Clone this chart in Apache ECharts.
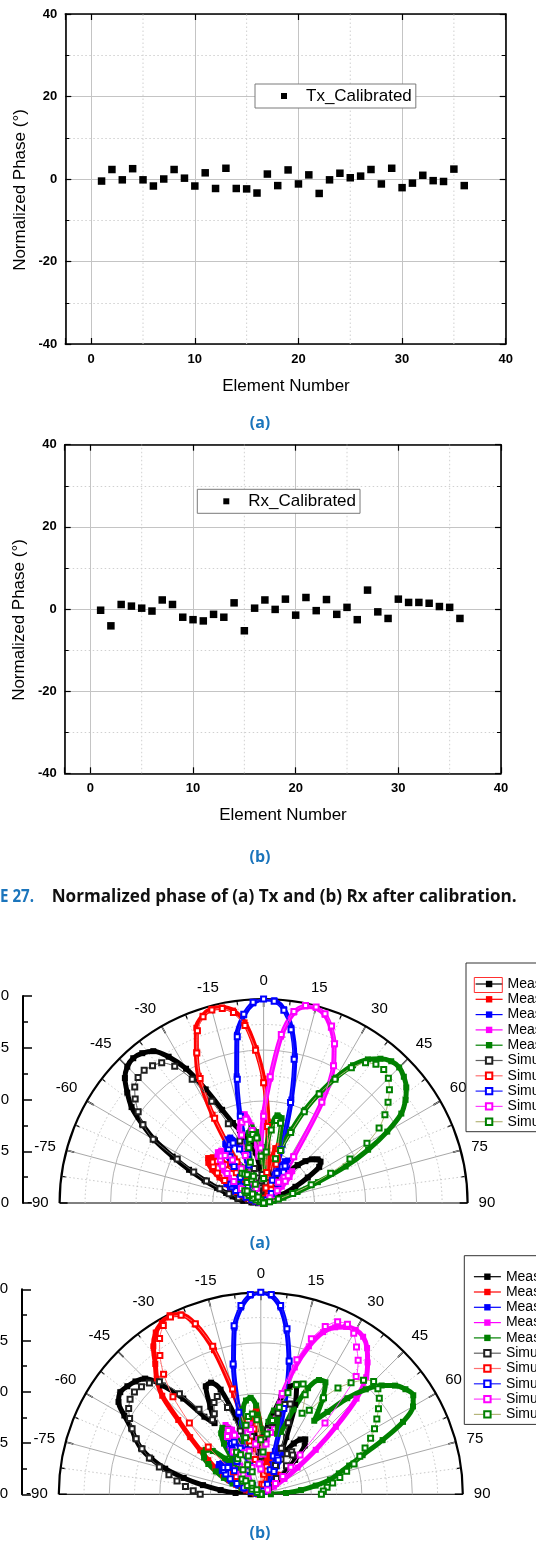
<!DOCTYPE html>
<html><head><meta charset="utf-8">
<script src="https://cdn.jsdelivr.net/npm/echarts@6/dist/echarts.min.js"></script>
<style>html,body{margin:0;padding:0;background:#fff}#c{width:536px;height:1547px}</style>
</head><body><div id="c"></div><script>
// ---------- DATA ----------
const elements = [1,2,3,4,5,6,7,8,9,10,11,12,13,14,15,16,17,18,19,20,21,22,23,24,25,26,27,28,29,30,31,32,33,34,35,36];
const txPhase = [-0.5,2.3,-0.2,2.5,-0.2,-1.7,0,2.3,0.2,-1.7,1.5,-2.3,2.6,-2.3,-2.4,-3.4,1.2,-1.6,2.2,-1.2,1.0,-3.5,-0.2,1.4,0.3,0.7,2.3,-1.2,2.6,-2.1,-1.0,0.9,-0.4,-0.6,2.4,-1.6];
const rxPhase = [-0.3,-4.1,1.1,0.7,0.2,-0.5,2.2,1.1,-2.0,-2.6,-2.9,-1.3,-2.0,1.5,-5.3,0.2,2.2,-0.1,2.4,-1.5,2.8,-0.4,2.3,-1.3,0.4,-2.6,4.6,-0.7,-2.3,2.4,1.6,1.6,1.4,0.6,0.4,-2.3];
const xTickLabels = [0,10,20,30,40];
const xMinorGrid = [5,15,25,35];
const yTickLabels = [-40,-20,0,20,40];

const angles = [-90,-87,-84,-81,-78,-75,-72,-69,-66,-63,-60,-57,-54,-51,-48,-45,-42,-39,-36,-33,-30,-27,-24,-21,-18,-15,-12,-9,-6,-3,0,3,6,9,12,15,18,21,24,27,30,33,36,39,42,45,48,51,54,57,60,63,66,69,72,75,78,81,84,87,90];
const angleTicks = [-90,-75,-60,-45,-30,-15,0,15,30,45,60,75,90];
const radiusTicks = [-20,-15,-10,-5,0];
const radiusMajorGrid = [-15,-10,-5];
const radiusMinorGrid = [-17.5,-12.5,-7.5,-2.5];

// Panel (a) Tx patterns, dB
const txMeasBlack = [-19.8,-18.8,-18.0,-17.4,-16.9,-16.2,-15.2,-13.8,-12.0,-10.0, -7.7,-5.8,-4.0,-2.8,-1.7,-1.1,-0.9,-1.1,-1.6,-2.9, -4.8,-7.5,-10.0,-11.6,-12.5,-13.3,-14.0,-15.0,-16.5,-17.5, -18.5,-19.5,-18.0,-17.0,-17.8,-19.0,-18.2,-17.2,-17.0,-17.5, -18.5,-18.0,-17.0,-16.0,-15.0,-14.2,-13.6,-13.2,-13.1,-13.5, -15.0,-16.5,-18.0,-19.0,-19.5,-20,-20,-20,-20,-20,-20];
const txMeasRed = [-20,-20,-19.6,-19.3,-19.0,-18.5,-18.0,-17.5,-16.8,-16.0, -15.0,-14.0,-13.3,-13.0,-13.3,-14.2,-15.5,-16.5,-17.0,-14.8, -10.0,-6.0,-3.8,-1.6,-0.7,-0.3,-0.4,-0.9,-2.2,-4.8, -7.8,-12.0,-16.0,-17.5,-14.5,-14.2,-15.5,-17.5,-19.0,-18.2, -17.8,-18.6,-19.5,-20,-20,-20,-20,-20,-20,-20, -20,-20,-20,-20,-20,-20,-20,-20,-20,-20,-20];
const txMeasBlue = [-20,-20,-19.6,-19.2,-18.8,-18.3,-17.7,-17.0,-16.4,-15.9, -15.6,-15.8,-16.6,-17.6,-18.2,-17.2,-16.0,-14.8,-13.8,-13.1, -12.8,-12.8,-13.6,-15.5,-14.5,-11.0,-7.3,-3.3,-1.5,-0.4, 0,-0.1,-0.9,-2.6,-5.3,-9.5,-14.0,-17.0,-16.2,-15.4, -15.2,-15.8,-17.0,-18.2,-19.2,-19.8,-20,-20,-20,-20, -20,-20,-20,-20,-20,-20,-20,-20,-20,-20,-20];
const txMeasMagenta = [-20,-20,-20,-20,-20,-20,-20,-19.5,-19.0,-18.4, -17.8,-16.8,-15.8,-14.9,-14.2,-13.6,-13.3,-13.4,-14.2,-15.6, -17.2,-18.0,-16.8,-14.2,-12.4,-11.3,-11.1,-12.3,-14.8,-14.2, -11.2,-7.8,-3.6,-1.1,-0.3,-0.2,-0.6,-1.6,-3.0,-4.9, -8.5,-14.5,-17.0,-16.2,-15.8,-16.4,-17.6,-18.8,-19.5,-20, -20,-20,-20,-20,-20,-20,-20,-20,-20,-20,-20];
const txMeasGreen = [-20,-20,-20,-19.8,-19.5,-19.2,-18.8,-18.3,-17.8,-17.3, -16.8,-16.5,-16.8,-17.5,-18.2,-18.8,-18.5,-16.0,-15.0,-15.2, -16.0,-16.8,-17.5,-17.0,-15.5,-14.0,-13.0,-12.5,-13.0,-14.8, -17.0,-14.5,-12.3,-11.3,-11.5,-15.0,-14.0,-12.3,-10.0,-7.9, -5.8,-3.9,-2.6,-1.8,-1.3,-1.2,-1.5,-2.0,-2.8,-3.9, -6.0,-8.5,-11.2,-14.3,-16.5,-18.0,-19.0,-19.5,-20,-20,-20];
const txSimBlack = [-20,-19.5,-19.0,-18.5,-17.5,-16.5,-15.5,-14.0,-12.5,-10.5, -7.5,-5.9,-4.8,-3.8,-3.0,-2.6,-2.5,-2.7,-3.0,-4.0, -6.0,-8.8,-11.5,-13.5,-15.0,-16.5,-17.5,-18.5,-17.8,-17.2, -18.8,-20,-18.5,-18.0,-19.0,-20,-19.0,-18.2,-17.8,-17.5, -17.8,-18.5,-19.2,-19.6,-20,-20,-20,-20,-20,-20, -20,-20,-20,-20,-20,-20,-20,-20,-20,-20,-20];
const txSimRed = [-20,-20,-20,-19.6,-19.2,-18.8,-18.4,-17.8,-17.2,-16.5, -15.6,-14.6,-13.9,-13.6,-13.9,-14.7,-16.0,-17.2,-17.6,-15.2, -10.4,-6.3,-3.9,-1.9,-0.8,-0.4,-0.5,-1.1,-2.5,-5.0, -8.2,-12.5,-17.0,-18.5,-15.5,-15.0,-16.0,-18.0,-19.5,-19.0, -18.5,-19.2,-20,-20,-20,-20,-20,-20,-20,-20, -20,-20,-20,-20,-20,-20,-20,-20,-20,-20,-20];
const txSimBlue = [-20,-20,-20,-19.6,-19.2,-18.8,-18.2,-17.6,-17.0,-16.5, -16.3,-16.5,-17.2,-18.0,-18.6,-17.8,-16.6,-15.4,-14.4,-13.7, -13.4,-13.4,-14.2,-16.0,-15.0,-11.2,-7.6,-3.5,-1.4,-0.3, 0,-0.2,-1.0,-2.8,-5.6,-9.8,-14.5,-17.6,-16.8,-16.0, -15.8,-16.4,-17.6,-18.8,-19.6,-20,-20,-20,-20,-20, -20,-20,-20,-20,-20,-20,-20,-20,-20,-20,-20];
const txSimMagenta = [-20,-20,-20,-20,-20,-20,-20,-19.8,-19.4,-18.8, -18.2,-17.4,-16.4,-15.4,-14.6,-14.0,-13.8,-14.0,-14.8,-16.0, -17.6,-18.4,-17.4,-15.0,-13.0,-11.8,-11.6,-12.8,-15.4,-14.6, -11.5,-7.6,-3.4,-1.0,-0.2,-0.1,-0.5,-1.4,-2.9,-4.9, -8.6,-14.6,-17.5,-16.8,-16.4,-17.0,-18.2,-19.2,-20,-20, -20,-20,-20,-20,-20,-20,-20,-20,-20,-20,-20];
const txSimGreen = [-20,-20,-20,-20,-20,-20,-19.6,-19.2,-18.8,-18.4, -18.0,-17.8,-18.0,-18.6,-19.2,-19.6,-19.2,-17.4,-16.4,-16.6, -16.8,-17.4,-18.0,-17.2,-15.8,-14.4,-13.6,-13.2,-13.6,-15.4, -17.6,-15.0,-12.8,-11.8,-12.0,-15.5,-14.6,-12.6,-10.2,-8.0, -6.0,-4.2,-3.0,-2.5,-2.4,-2.7,-3.4,-4.3,-5.3,-6.5, -8.3,-10.5,-12.8,-15.0,-17.0,-18.5,-19.4,-20,-20,-20,-20];

// Panel (b) Rx patterns, dB
const rxMeasBlack = [-19.0,-17.5,-16.0,-14.2,-12.2,-10.2,-8.6,-7.3,-6.4,-5.6, -4.4,-3.2,-2.8,-3.0,-3.3,-3.8,-5.5,-7.8,-10.5,-11.6, -10.0,-8.0,-7.9,-8.9,-12.0,-14.8,-14.0,-13.2,-14.0,-15.8, -17.0,-15.2,-13.2,-11.8,-10.2,-9.0,-8.5,-10.5,-13.8,-15.8, -15.0,-14.0,-13.3,-13.0,-13.5,-15.2,-17.2,-18.8,-19.6,-20, -20,-20,-20,-20,-20,-20,-20,-20,-20,-20,-20];
const rxMeasRed = [-20,-20,-19.8,-19.4,-19.0,-18.5,-18.0,-17.4,-16.6,-15.8, -14.8,-13.8,-12.6,-11.0,-9.0,-6.2,-4.6,-3.4,-1.9,-0.9, -0.4,-0.1,-0.5,-2.0,-5.0,-9.8,-14.0,-15.5,-12.5,-11.5, -13.5,-16.5,-18.0,-16.8,-16.0,-16.5,-18.0,-19.0,-18.2,-17.8, -18.2,-18.8,-18.0,-17.5,-17.4,-17.5,-17.8,-18.5,-19.2,-20, -20,-20,-20,-20,-20,-20,-20,-20,-20,-20,-20];
const rxMeasBlue = [-20,-20,-20,-19.8,-19.5,-19.0,-18.4,-17.6,-16.8,-16.0, -15.4,-15.0,-14.9,-15.1,-15.8,-17.0,-18.2,-17.0,-15.5,-14.2, -13.6,-13.6,-14.5,-16.5,-15.0,-11.8,-7.0,-3.3,-1.4,-0.3, 0,-0.3,-1.4,-3.6,-6.6,-11.0,-15.5,-16.8,-15.4,-15.6, -16.8,-18.2,-19.2,-20,-20,-20,-20,-20,-20,-20, -20,-20,-20,-20,-20,-20,-20,-20,-20,-20,-20];
const rxMeasMagenta = [-20,-20,-20,-20,-20,-20,-20,-20,-20,-20, -19.6,-19.0,-18.2,-17.4,-16.8,-16.5,-16.8,-17.5,-16.5,-14.5, -12.8,-12.3,-13.0,-15.0,-16.5,-15.0,-13.2,-13.0,-14.5,-16.5, -17.0,-15.5,-14.5,-13.0,-10.0,-7.0,-4.6,-2.8,-1.9,-1.4, -1.2,-1.4,-2.1,-3.2,-4.4,-6.6,-10.0,-13.0,-15.5,-17.2, -18.5,-19.4,-20,-20,-20,-20,-20,-20,-20,-20,-20];
const rxMeasGreen = [-20,-20,-20,-19.8,-19.4,-18.8,-18.0,-17.0,-16.0,-15.0, -14.0,-13.3,-13.0,-13.0,-13.6,-15.0,-16.6,-15.5,-13.8,-12.8, -12.4,-12.8,-14.2,-15.8,-14.5,-12.8,-11.4,-10.6,-10.4,-11.2, -13.5,-14.8,-12.8,-11.6,-12.0,-13.8,-13.5,-11.0,-8.5,-7.3, -7.2,-8.8,-11.0,-9.5,-7.2,-5.3,-3.9,-2.9,-2.3,-2.0, -2.6,-4.2,-6.8,-9.2,-10.8,-12.0,-13.0,-14.5,-16.0,-17.5,-19.0];
const rxSimBlack = [-14.0,-13.3,-12.5,-11.6,-10.7,-9.6,-8.4,-7.4,-6.5,-5.7, -5.0,-4.4,-4.0,-3.9,-4.1,-4.4,-5.0,-7.2,-9.6,-11.2, -10.8,-9.8,-9.4,-10.8,-13.4,-15.4,-15.0,-14.2,-15.0,-16.8, -16.2,-14.4,-13.6,-12.8,-11.8,-10.8,-10.6,-12.4,-15.0,-16.8, -16.0,-15.2,-14.8,-15.0,-16.2,-17.8,-19.0,-20,-20,-20, -20,-20,-20,-20,-20,-20,-20,-20,-20,-20,-20];
const rxSimRed = [-20,-20,-20,-20,-19.8,-19.5,-19.2,-18.8,-18.4,-18.0, -17.8,-17.4,-17.0,-16.5,-13.0,-10.0,-7.0,-4.7,-3.0,-1.6, -0.7,-0.3,-0.6,-1.9,-4.6,-9.2,-14.6,-16.5,-13.5,-12.6, -14.5,-17.5,-19.0,-18.0,-17.2,-17.6,-19.0,-20,-20,-20, -20,-20,-20,-20,-20,-20,-20,-20,-20,-20, -20,-20,-20,-20,-20,-20,-20,-20,-20,-20,-20];
const rxSimBlue = [-20,-20,-20,-20,-20,-19.6,-19.0,-18.2,-17.4,-16.6, -16.0,-15.6,-15.5,-15.8,-16.5,-17.6,-18.8,-17.6,-16.0,-14.8, -14.2,-14.2,-15.0,-17.0,-15.4,-11.6,-6.8,-3.1,-1.2,-0.2, 0,-0.2,-1.2,-3.4,-6.5,-11.2,-16.0,-17.4,-16.0,-16.2, -17.4,-18.8,-19.6,-20,-20,-20,-20,-20,-20,-20, -20,-20,-20,-20,-20,-20,-20,-20,-20,-20,-20];
const rxSimMagenta = [-20,-20,-20,-20,-20,-20,-20,-20,-20,-20, -20,-19.6,-19.0,-18.2,-17.6,-17.2,-17.4,-18.0,-17.0,-15.0, -13.4,-12.9,-13.6,-15.6,-17.2,-15.6,-13.8,-13.5,-15.0,-17.0, -17.5,-16.0,-15.0,-13.8,-9.8,-6.2,-3.8,-2.2,-1.3,-1.1, -1.6,-2.6,-3.6,-5.0,-10.5,-14.5,-16.0,-17.2,-18.2,-19.2, -20,-20,-20,-20,-20,-20,-20,-20,-20,-20,-20];
const rxSimGreen = [-20,-20,-20,-20,-20,-20,-20,-20,-20,-19.6, -19.0,-18.4,-17.8,-17.6,-18.0,-18.8,-19.4,-18.6,-17.0,-15.8, -15.2,-15.6,-16.8,-17.6,-16.0,-14.2,-13.0,-12.2,-12.0,-12.6, -14.6,-15.8,-14.0,-12.6,-11.2,-9.6,-8.6,-8.3,-9.2,-11.0, -10.4,-8.6,-7.0,-5.8,-4.8,-4.2,-4.4,-4.9,-5.6,-6.3, -7.0,-7.8,-8.7,-9.5,-10.3,-11.2,-12.0,-12.8,-13.4,-13.8,-14.0];

const txNames = ['Measured Tx -45°','Measured Tx -15°','Measured Tx 0°','Measured Tx 15°','Measured Tx 45°','Simulated Tx -45°','Simulated Tx -15°','Simulated Tx 0°','Simulated Tx 15°','Simulated Tx 45°'];
const rxNames = ['Measured Rx -60°','Measured Rx -30°','Measured Rx 0°','Measured Rx 30°','Measured Rx 60°','Simulated Rx -60°','Simulated Rx -30°','Simulated Rx 0°','Simulated Rx 30°','Simulated Rx 60°'];

// ---------- STYLE ----------
const FONT = '"Liberation Sans", Arial, sans-serif';
const measColors = ['#000000','#ff0000','#0000ff','#ff00ff','#008000'];
const simLineColors = ['#606060','#ff7070','#2020ff','#ff40ff','#b5b57a'];
const simItemColors = ['#202020','#ff0000','#0000ff','#ff00ff','#008000'];

const pairs = (ys) => ys.map((y, i) => [elements[i], y]);
const polarPairs = (vals) => vals.map((v, i) => [v, angles[i]]);

function measSeries(name, vals, k, pIdx) {
  return { type:'line', name, coordinateSystem:'polar', polarIndex:pIdx, data:polarPairs(vals),
    smooth:0.3, symbol:'rect', symbolSize:6, showSymbol:true, showAllSymbol:true,
    lineStyle:{color:measColors[k], width:5}, itemStyle:{color:measColors[k]}, z:2 };
}
function simSeries(name, vals, k, pIdx) {
  return { type:'line', name, coordinateSystem:'polar', polarIndex:pIdx, data:polarPairs(vals),
    smooth:0.2, symbol:'emptyRect', symbolSize:5, showSymbol:true, showAllSymbol:true,
    lineStyle:{color:simLineColors[k], width:1}, itemStyle:{color:simItemColors[k], borderColor:simItemColors[k]}, z:3 };
}
// half-circle radial grid arcs drawn through the polar radius scale
function arcGridSeries(pIdx, values, dotted) {
  return { type:'custom', coordinateSystem:'polar', polarIndex:pIdx, silent:true, z:1,
    data: values.map((v) => [v, 0]),
    renderItem: function (params, api) {
      const cs = params.coordSys;
      const p = api.coord([api.value(0), 0]);
      const r = Math.hypot(p[0] - cs.cx, p[1] - cs.cy);
      return { type:'arc', shape:{cx:cs.cx, cy:cs.cy, r:r, startAngle:Math.PI, endAngle:2 * Math.PI, clockwise:true},
        style:{stroke: dotted ? '#c4c4c4' : '#b4b4b4', fill:null, lineWidth:1, lineDash: dotted ? [1.5, 2.5] : null} };
    } };
}
// vertical dotted minor grid lines of the scatter plots
function xMinorGridSeries(xIdx, yIdx) {
  return { type:'custom', xAxisIndex:xIdx, yAxisIndex:yIdx, silent:true, z:1,
    data: xMinorGrid.map((v) => [v]),
    renderItem: function (params, api) {
      const a = api.coord([api.value(0), -40]);
      const b = api.coord([api.value(0), 40]);
      return { type:'line', shape:{x1:a[0], y1:a[1], x2:b[0], y2:b[1]},
        style:{stroke:'#d0d0d0', lineWidth:1, lineDash:[1.5, 2.5]} };
    } };
}

const sGrids = [
  {left:65.3, top:14, width:440.4, height:330, outerBoundsMode:'none'},
  {left:64.7, top:444.7, width:436.3, height:328.6, outerBoundsMode:'none'}
];
function xAxesFor(g) {
  return [
    { gridIndex:g, type:'value', position:'bottom', min:-2.5, max:40, splitNumber:5,
      axisLine:{onZero:false, lineStyle:{color:'#000', width:1.6}},
      axisTick:{inside:true, length:6, lineStyle:{color:'#000', width:1.2}},
      axisLabel:{color:'#000', fontFamily:FONT, fontWeight:'bold', fontSize:13, margin:9,
        formatter:(v) => xTickLabels.indexOf(v) >= 0 ? String(v) : ''},
      splitLine:{show:true, lineStyle:{color:'#c4c4c4', width:1}} },
    { gridIndex:g, type:'value', position:'top', min:-2.5, max:40, splitNumber:5,
      axisLine:{onZero:false, lineStyle:{color:'#000', width:1.6}},
      axisTick:{inside:true, length:6, lineStyle:{color:'#000', width:1.2}},
      axisLabel:{show:false}, splitLine:{show:false} }
  ];
}
function yAxesFor(g) {
  return [
    { gridIndex:g, type:'value', position:'left', min:-40, max:40, interval:20,
      axisLine:{onZero:false, lineStyle:{color:'#000', width:1.6}},
      axisTick:{inside:true, length:6, lineStyle:{color:'#000', width:1.2}},
      minorTick:{show:true, splitNumber:2, length:4, lineStyle:{color:'#000'}},
      axisLabel:{color:'#000', fontFamily:FONT, fontWeight:'bold', fontSize:13, margin:8,
        formatter:(v) => yTickLabels.indexOf(v) >= 0 ? String(v) : ''},
      splitLine:{show:true, lineStyle:{color:'#c4c4c4', width:1}},
      minorSplitLine:{show:true, lineStyle:{color:'#d0d0d0', type:[1.5, 2.5], width:1}} },
    { gridIndex:g, type:'value', position:'right', min:-40, max:40, interval:20,
      axisLine:{onZero:false, lineStyle:{color:'#000', width:1.6}},
      axisTick:{inside:true, length:6, lineStyle:{color:'#000', width:1.2}},
      minorTick:{show:true, splitNumber:2, length:4, lineStyle:{color:'#000'}},
      axisLabel:{show:false}, splitLine:{show:false} }
  ];
}
function radialSideAxis(g) {
  return { gridIndex:g, type:'value', position:'left', min:-20, max:0, interval:5,
    axisLine:{onZero:false, lineStyle:{color:'#000', width:2}},
    axisTick:{inside:true, length:9, lineStyle:{color:'#000', width:1.5}},
    minorTick:{show:true, splitNumber:2, length:5, lineStyle:{color:'#000', width:1.5}},
    axisLabel:{color:'#000', fontFamily:FONT, fontSize:15, margin:14,
      formatter:(v) => radiusTicks.indexOf(v) >= 0 ? String(v) : ''},
    splitLine:{show:false} };
}

const spokeColors = angleTicks.map((a) => (a === -90 || a === 90) ? '#000000' : '#a8a8a8');
function angleAxisFor(p) {
  return { polarIndex:p, type:'value', min:-90, max:90, interval:15, startAngle:180, endAngle:0, clockwise:true,
    axisLine:{show:true, lineStyle:{color:'#000', width:2.2}},
    axisTick:{show:true, inside:true, length:8, lineStyle:{color:'#000', width:1.5}},
    minorTick:{show:true, splitNumber:2, length:5, lineStyle:{color:'#000', width:1.2}},
    axisLabel:{color:'#000', fontFamily:FONT, fontSize:15, margin:11},
    splitLine:{show:true, lineStyle:{color:spokeColors, width:1}},
    minorSplitLine:{show:true, lineStyle:{color:'#c8c8c8', type:[1.5, 2.5], width:1}} };
}
function radiusAxisFor(p) {
  return { polarIndex:p, type:'value', min:-20, max:0, interval:5,
    axisLine:{show:false}, axisTick:{show:false}, axisLabel:{show:false},
    splitLine:{show:false}, minorSplitLine:{show:false} };
}
function polarLegend(names, left, top) {
  return { data:names, orient:'vertical', left, top, padding:[14, 60, 3, 9],
    itemWidth:27, itemHeight:8, itemGap:1.3, backgroundColor:'#fff',
    borderColor:'#333', borderWidth:1, borderRadius:0,
    lineStyle:{width:1.2}, inactiveColor:'#000',
    textStyle:{color:'#000', fontFamily:FONT, fontSize:14, lineHeight:14} };
}
function scatterLegend(name, left, top) {
  return { data:[name], left, top, padding:[3, 4, 3, 26], icon:'rect', itemWidth:6, itemHeight:6,
    backgroundColor:'#fff', borderColor:'#7a7a7a', borderWidth:1, borderRadius:0,
    textStyle:{color:'#000', fontFamily:FONT, fontSize:17, lineHeight:18, padding:[0,0,0,14]} };
}

function fitScale(text, font, target) {
  const c = document.createElement('canvas').getContext('2d');
  c.font = font;
  return target / c.measureText(text).width;
}
const capFont = 'bold 18px "Open Sans", "Noto Sans", sans-serif';
const capText = 'Normalized phase of (a) Tx and (b) Rx after calibration.';
const capNum = 'E 27.';
const capScale = fitScale(capText, capFont, 465);
const numScale = fitScale(capNum, capFont, 34);
const blue = '#1b75bc';

function txt(text, x, y, font, fill, extra) {
  return Object.assign({ type:'text', x, y, silent:true,
    style:{ text, font, fill, align:'center', verticalAlign:'middle' } }, extra || {});
}
const titleFont = '17px ' + FONT;

const option = {
  animation:false,
  backgroundColor:'#fff',
  grid:[
    sGrids[0], sGrids[1],
    {left:23, top:996, width:10, height:207, outerBoundsMode:'none'},
    {left:22, top:1289.3, width:10, height:205, outerBoundsMode:'none'}
  ],
  xAxis:[].concat(xAxesFor(0), xAxesFor(1),
    [{gridIndex:2, type:'value', show:false, min:0, max:1}, {gridIndex:3, type:'value', show:false, min:0, max:1}]),
  yAxis:[].concat(yAxesFor(0), yAxesFor(1), [radialSideAxis(2), radialSideAxis(3)]),
  polar:[
    {center:[263.6, 1203], radius:204},
    {center:[260.8, 1494.3], radius:202}
  ],
  angleAxis:[angleAxisFor(0), angleAxisFor(1)],
  radiusAxis:[radiusAxisFor(0), radiusAxisFor(1)],
  legend:[
    scatterLegend('Tx_Calibrated', 255, 84),
    scatterLegend('Rx_Calibrated', 197.3, 489.3),
    polarLegend(txNames, 466, 963),
    polarLegend(rxNames, 464.3, 1255.7)
  ],
  series:[
    xMinorGridSeries(0, 0),
    xMinorGridSeries(2, 2),
    { type:'scatter', name:'Tx_Calibrated', xAxisIndex:0, yAxisIndex:0, data:pairs(txPhase),
      symbol:'rect', symbolSize:7.5, itemStyle:{color:'#000', opacity:1}, z:4 },
    { type:'scatter', name:'Rx_Calibrated', xAxisIndex:2, yAxisIndex:2, data:pairs(rxPhase),
      symbol:'rect', symbolSize:7.5, itemStyle:{color:'#000', opacity:1}, z:4 },
    arcGridSeries(0, radiusMajorGrid, false),
    arcGridSeries(0, radiusMinorGrid, true),
    arcGridSeries(1, radiusMajorGrid, false),
    arcGridSeries(1, radiusMinorGrid, true),
    measSeries(txNames[0], txMeasBlack, 0, 0),
    measSeries(txNames[1], txMeasRed, 1, 0),
    measSeries(txNames[2], txMeasBlue, 2, 0),
    measSeries(txNames[3], txMeasMagenta, 3, 0),
    measSeries(txNames[4], txMeasGreen, 4, 0),
    simSeries(txNames[5], txSimBlack, 0, 0),
    simSeries(txNames[6], txSimRed, 1, 0),
    simSeries(txNames[7], txSimBlue, 2, 0),
    simSeries(txNames[8], txSimMagenta, 3, 0),
    simSeries(txNames[9], txSimGreen, 4, 0),
    measSeries(rxNames[0], rxMeasBlack, 0, 1),
    measSeries(rxNames[1], rxMeasRed, 1, 1),
    measSeries(rxNames[2], rxMeasBlue, 2, 1),
    measSeries(rxNames[3], rxMeasMagenta, 3, 1),
    measSeries(rxNames[4], rxMeasGreen, 4, 1),
    simSeries(rxNames[5], rxSimBlack, 0, 1),
    simSeries(rxNames[6], rxSimRed, 1, 1),
    simSeries(rxNames[7], rxSimBlue, 2, 1),
    simSeries(rxNames[8], rxSimMagenta, 3, 1),
    simSeries(rxNames[9], rxSimGreen, 4, 1)
  ],
  graphic:[
    txt('Normalized Phase (°)', 20, 190, titleFont, '#000', {rotation:Math.PI/2}),
    txt('Element Number', 286, 386, titleFont, '#000'),
    txt('(a)', 260, 423, 'bold 16px "Open Sans", sans-serif', blue),
    txt('Normalized Phase (°)', 19, 620, titleFont, '#000', {rotation:Math.PI/2}),
    txt('Element Number', 283, 815, titleFont, '#000'),
    txt('(b)', 260, 857, 'bold 16px "Open Sans", sans-serif', blue),
    { type:'text', x:0, y:897, scaleX:numScale, silent:true,
      style:{text:capNum, font:capFont, fill:blue, align:'left', verticalAlign:'middle'} },
    { type:'text', x:51.7, y:897, scaleX:capScale, silent:true,
      style:{text:capText, font:capFont, fill:'#111', align:'left', verticalAlign:'middle'} },
    txt('(a)', 260, 1243, 'bold 16px "Open Sans", sans-serif', blue),
    txt('(b)', 260, 1533, 'bold 16px "Open Sans", sans-serif', blue),
    { type:'rect', silent:true, z:100, shape:{x:474.3, y:977.5, width:28, height:15},
      style:{fill:'none', stroke:'#ff3030', lineWidth:1} }
  ]
};

const chart = echarts.init(document.getElementById('c'), null, {renderer:'canvas', width:536, height:1547});
chart.setOption(option);
</script></body></html>
